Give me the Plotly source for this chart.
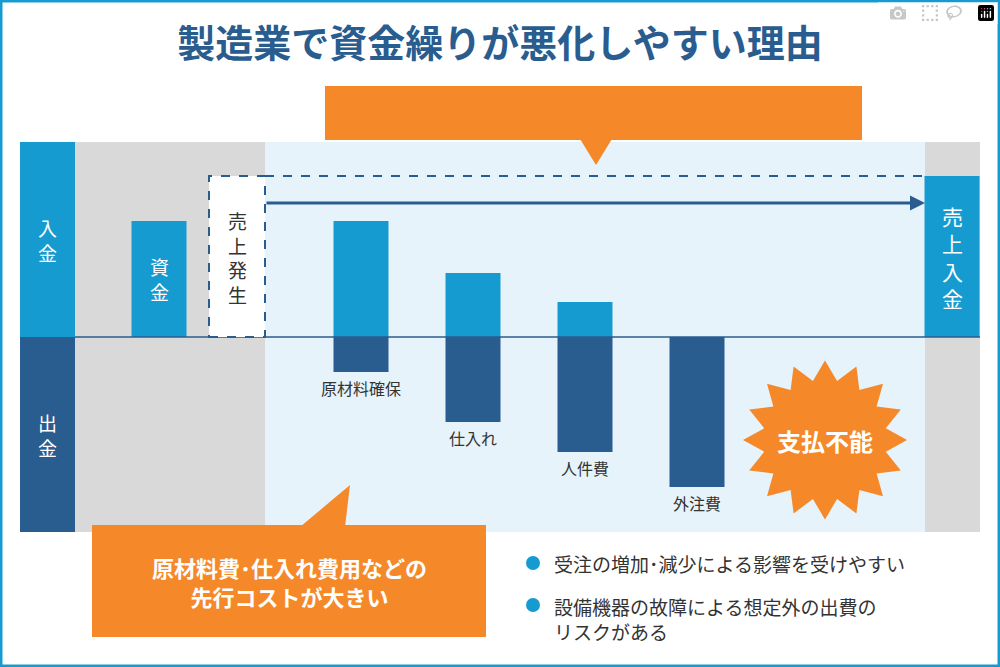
import math
import plotly.graph_objects as go

# data: cash in (+) / cash out (-) heights, in chart units
steps = ["原材料確保", "仕入れ", "人件費", "外注費"]
step_x = [361, 473, 585, 697]
cash_in = [116, 64, 35, 0]
cash_out = [-35, -85, -115, -150]
fund_x, fund_val = 159, 116
sales_x, sales_val = 952, 161

LIGHT = "#169bd0"
DARK = "#2a5d8f"
ORANGE = "#f5892a"
FONT = "Noto Sans CJK JP"

fig = go.Figure()
fig.add_trace(go.Bar(x=step_x, y=cash_in, width=55, marker_color=LIGHT, marker_line_width=0))
fig.add_trace(go.Bar(x=step_x, y=cash_out, width=55, marker_color=DARK, marker_line_width=0))
fig.add_trace(go.Bar(x=[fund_x], y=[fund_val], width=55, marker_color=LIGHT, marker_line_width=0))
fig.add_trace(go.Bar(x=[sales_x], y=[sales_val], width=55, marker_color=LIGHT, marker_line_width=0))

shapes = []
def rect(x0, y0, x1, y1, fill, layer="below", line=None):
    shapes.append(dict(type="rect", x0=x0, y0=y0, x1=x1, y1=y1, fillcolor=fill,
                       line=line or dict(width=0), layer=layer))

# backgrounds (y: 0 = midline)
rect(75, -195, 265, 195, "#d9d9d9")
rect(265, -195, 925, 195, "#e6f3fa")
rect(925, -195, 980, 195, "#d9d9d9")
rect(20, 0, 75, 195, LIGHT)
rect(20, -195, 75, 0, DARK)
shapes.append(dict(type="line", x0=75, x1=980, y0=0, y1=0, line=dict(color=DARK, width=1.5), layer="above"))
# dashed sales box and line
rect(209, 0, 265, 161, "white", layer="above", line=dict(color=DARK, width=2, dash="dash"))
shapes.append(dict(type="line", x0=265, x1=925, y0=161, y1=161, line=dict(color=DARK, width=2, dash="dash")))
# top callout
rect(325, 197, 862, 251, ORANGE, layer="above")
shapes.append(dict(type="path", path="M 580 198 L 596 172 L 612 198 Z", fillcolor=ORANGE, line=dict(width=0)))
# bottom callout
rect(92, -188, 486, -300, ORANGE, layer="above")
shapes.append(dict(type="path", path="M 300 -190 L 350 -148 L 345 -190 Z", fillcolor=ORANGE, line=dict(width=0)))
# starburst
pts = []
for i in range(32):
    r = 82 if i % 2 == 0 else 62
    a = math.pi * 2 * i / 32
    pts.append((825 + r * math.cos(a), -103 + r * 0.97 * math.sin(a)))
path = "M " + " L ".join(f"{px:.1f} {py:.1f}" for px, py in pts) + " Z"
shapes.append(dict(type="path", path=path, fillcolor=ORANGE, line=dict(width=0)))
# border
shapes.append(dict(type="rect", xref="paper", yref="paper", x0=0, x1=1, y0=0, y1=1,
                   line=dict(color=LIGHT, width=5)))

ann = []
def text(x, y, s, size, color, bold=False, align="center", xanchor="center"):
    if bold:
        s = "<b>" + s + "</b>"
    ann.append(dict(x=x, y=y, text=s, showarrow=False, font=dict(family=FONT, size=size, color=color),
                    align=align, xanchor=xanchor, yanchor="middle"))

text(594, 224, "掛取引が主流で入金サイトが長い", 22, "white", bold=True)
text(47, 97, "入<br>金", 19, "white")
text(47, -98, "出<br>金", 19, "white")
text(fund_x, 58, "資<br>金", 19, "white")
text(237, 80, "売<br>上<br>発<br>生", 19, "#333333")
text(sales_x, 80, "売<br>上<br>入<br>金", 21, "white")
for xx, lab, v in zip(step_x, steps, cash_out):
    text(xx, v - 16, lab, 16, "#333333")
text(825, -103, "支払不能", 24, "white", bold=True)
text(289, -244, "原材料費･仕入れ費用などの<br>先行コストが大きい", 22, "white", bold=True)
ann.append(dict(x=552, y=-226, text="受注の増加･減少による影響を受けやすい", showarrow=False, xanchor="left",
                font=dict(family=FONT, size=19, color="#333333")))
ann.append(dict(x=552, y=-282, text="設備機器の故障による想定外の出費の<br>リスクがある", showarrow=False,
                xanchor="left", align="left", font=dict(family=FONT, size=19, color="#333333")))

fig.add_trace(go.Scatter(x=[533, 533], y=[-226, -268], mode="markers",
                         marker=dict(size=14, color=LIGHT), hoverinfo="skip"))
# arrow
fig.add_annotation(x=925, y=134, ax=265, ay=134, xref="x", yref="y", axref="x", ayref="y",
                   showarrow=True, arrowhead=2, arrowsize=1, arrowwidth=3, arrowcolor=DARK, text="")

fig.update_layout(width=1000, height=667, margin=dict(l=0, r=0, t=0, b=0),
                  plot_bgcolor="white", paper_bgcolor="white", showlegend=False,
                  barmode="overlay", shapes=shapes, annotations=ann,
                  title=dict(text="<b>製造業で資金繰りが悪化しやすい理由</b>", x=0.5, xanchor="center",
                             y=0.935, yanchor="middle",
                             font=dict(family=FONT, size=38, color=DARK)))
fig.update_xaxes(range=[0, 1000], visible=False, fixedrange=True)
fig.update_yaxes(range=[-330, 337], visible=False, fixedrange=True)
fig.write_html("out.html", post_script="document.body.style.margin='0';")
